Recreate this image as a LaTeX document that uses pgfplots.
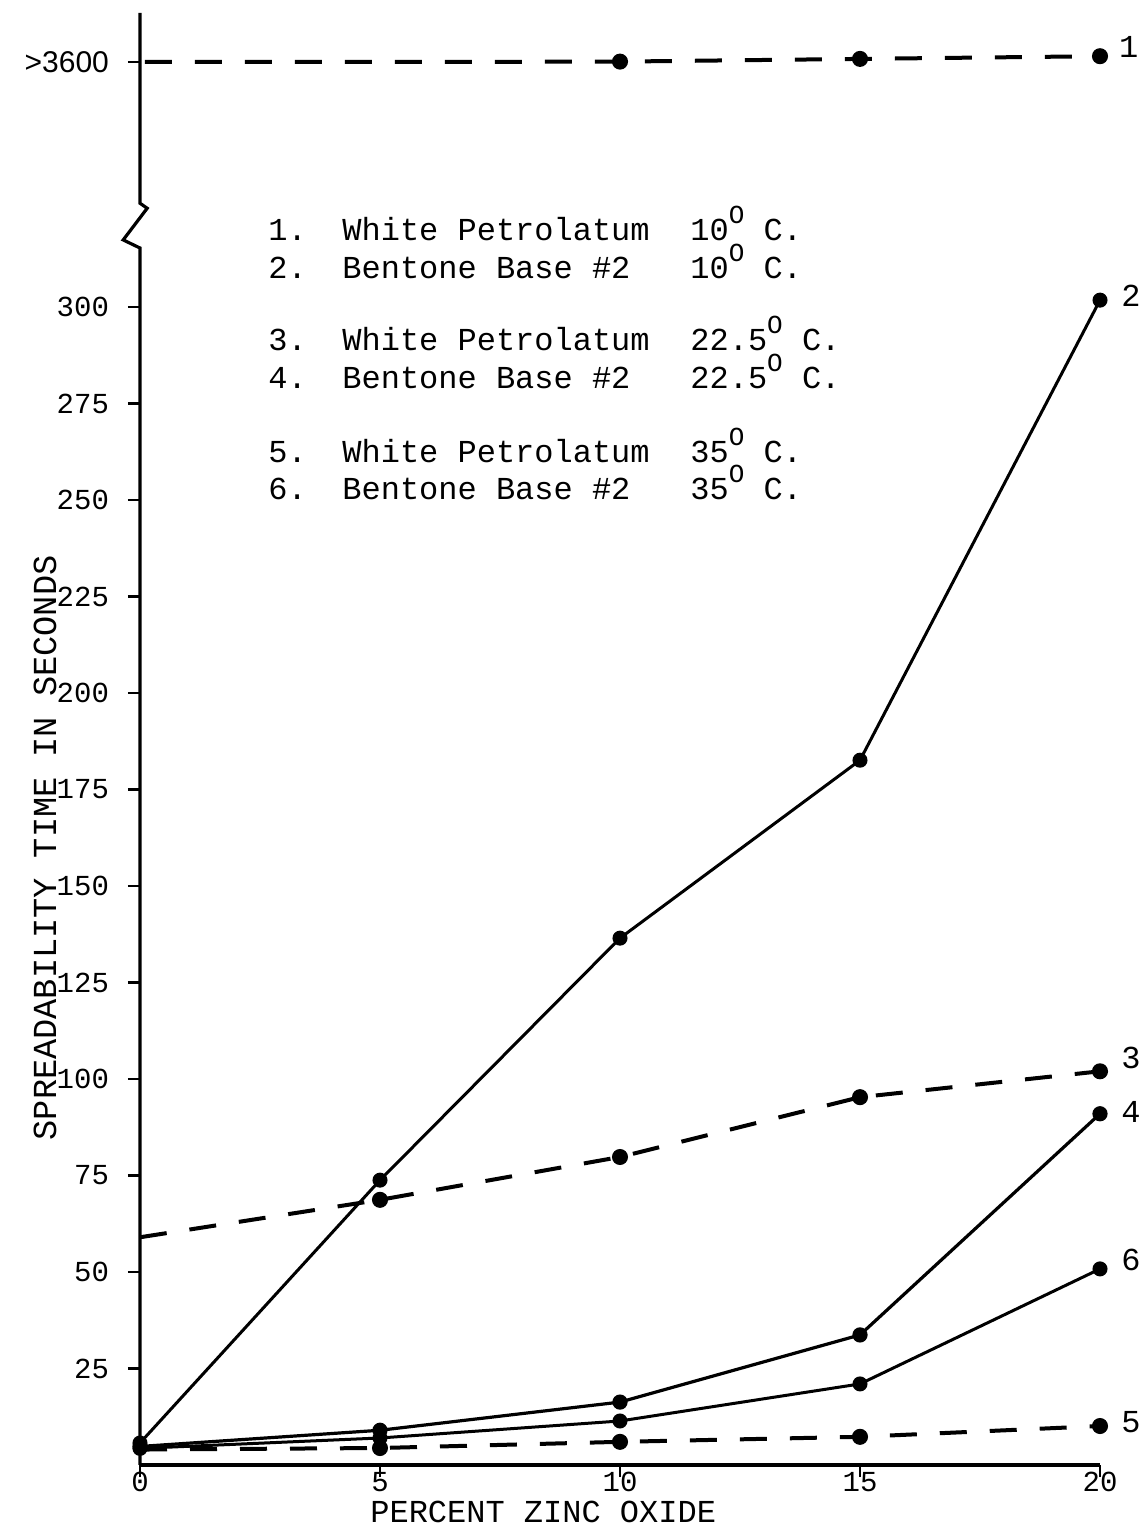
\documentclass[border=0pt]{standalone}
\usepackage{pgfplots}
\pgfplotsset{compat=1.18}
\usepackage{fontspec}
\setmainfont{Liberation Mono}
\newfontfamily\mono{Liberation Mono}
\newfontfamily\sans{Liberation Sans}
\newcommand{\degO}{\raisebox{0.55em}{\fontsize{13}{13}\selectfont O}}
\begin{document}
\begin{tikzpicture}[x=1pt,y=1pt]
\path[use as bounding box] (0,0) rectangle (572,765);
\begin{axis}[
  at={(70pt,32.5pt)}, anchor=origin,
  scale only axis, width=480pt, height=726pt,
  xmin=0, xmax=20, ymin=0, ymax=376.2,
  clip=false,
  axis x line=bottom, axis y line=left,
  axis line style={-, line width=1.6pt},
  y axis line style={draw=none},
  xtick={0,5,10,15,20},
  ytick={25,50,75,100,125,150,175,200,225,250,275,300},
  extra y ticks={363.5}, extra y tick labels={>3600},
  extra y tick style={tick style={line width=1.4pt}, yticklabel style={font=\sans\fontsize{15}{15}\selectfont}},
  tick align=outside, major tick length=6pt,
  tick style={line width=1.4pt, black},
  /pgf/number format/assume math mode=true,
  ticklabel style={font=\mono\fontsize{14.5}{14.5}\selectfont},
  yticklabel style={xshift=-6pt},
  xticklabel style={yshift=6pt},
  xlabel={PERCENT ZINC OXIDE},
  ylabel={SPREADABILITY TIME IN SECONDS},
  xlabel style={font=\mono\fontsize{16}{16}\selectfont, at={(axis description cs:0.42,0)}, anchor=north, yshift=-14.5pt},
  ylabel style={font=\mono\fontsize{16.8}{16.8}\selectfont, at={(axis description cs:-0.099,0.425)}, anchor=center},
  every axis plot/.append style={black},
]
% y axis with break
\draw[line width=1.6pt, line join=miter]
  (axis cs:0,0) -- (axis cs:0,315.3) -- (axis cs:-0.35,317.4)
  -- (axis cs:0.15,325.6) -- (axis cs:0,326.9) -- (axis cs:0,376.2);
% 1 White Petrolatum 10C (>3600)
\addplot[line width=2pt, dash pattern=on 13.5pt off 11.5pt, mark=*, mark size=3pt,
  mark indices={3,4,5}, mark options={solid}]
  coordinates {(0.1,363.5) (5,363.5) (10,363.6) (15,364.3) (20,365.0)};
% 2 Bentone Base #2 10C
\addplot[line width=1.5pt, mark=*, mark size=3pt]
  coordinates {(0,5.7) (5,73.8) (10,136.5) (15,182.6) (20,301.8)};
% 3 White Petrolatum 22.5C
\addplot[line width=2pt, dash pattern=on 13.5pt off 11.5pt, mark=*, mark size=3pt,
  mark indices={2,3,4,5}, mark options={solid}]
  coordinates {(0,59) (5,68.7) (10,79.8) (15,95.3) (20,102.0)};
% 4 Bentone Base #2 22.5C
\addplot[line width=1.6pt, mark=*, mark size=3pt]
  coordinates {(0,4.8) (5,9) (10,16.3) (15,33.7) (20,91)};
% 6 Bentone Base #2 35C
\addplot[line width=1.5pt, mark=*, mark size=3pt]
  coordinates {(0,4.3) (5,7) (10,11.4) (15,21) (20,50.8)};
% 5 White Petrolatum 35C
\addplot[line width=2pt, dash pattern=on 13.5pt off 11.5pt, mark=*, mark size=3pt,
  mark indices={2,3,4,5}, mark options={solid}]
  coordinates {(0,4) (5,4.4) (10,6) (15,7.3) (20,10.1)};
% curve labels
\begin{scope}[every node/.style={font=\mono\fontsize{16}{16}\selectfont, anchor=west}]
\node at (axis cs:20.25,367.5) {1};
\node at (axis cs:20.3,303) {2};
\node at (axis cs:20.3,105.5) {3};
\node at (axis cs:20.3,91.5) {4};
\node at (axis cs:20.3,53) {6};
\node at (axis cs:20.3,11) {5};
\end{scope}
\end{axis}
% legend block
\begin{scope}[every node/.style={font=\mono\fontsize{16}{16}\selectfont, anchor=base west, inner sep=0pt}]
\foreach \py/\n/\name/\t in {230/1./White Petrolatum/10, 268/2./Bentone Base \#2/10,
  340/3./White Petrolatum/22.5, 378/4./Bentone Base \#2/22.5,
  452/5./White Petrolatum/35, 489/6./Bentone Base \#2/35}{
  \node at (134,{(1530-\py-11)/2}) {\n};
  \node at (171,{(1530-\py-11)/2}) {\name};
  \node at (345,{(1530-\py-11)/2}) {\t\degO\ C.};
}
\end{scope}
\end{tikzpicture}
\end{document}
